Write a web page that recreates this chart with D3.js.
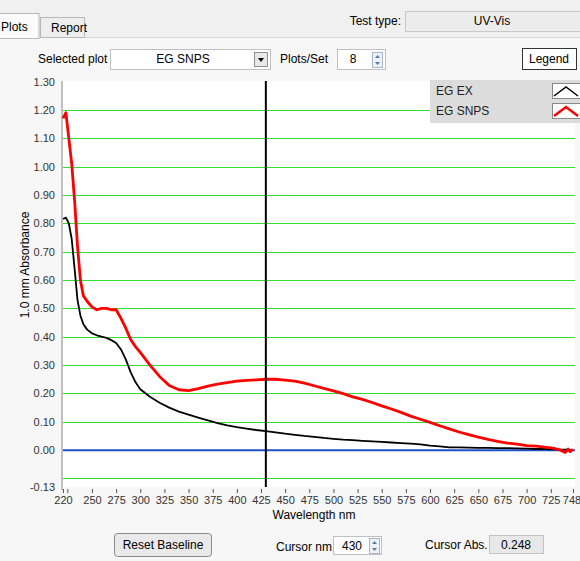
<!DOCTYPE html>
<html>
<head>
<meta charset="utf-8">
<script src="https://cdn.jsdelivr.net/npm/d3@7"></script>
<style>
  body { margin: 0; background: #f0f0f0; }
  svg { display: block; font-family: "Liberation Sans", Arial, sans-serif; font-size: 12px; }
</style>
</head>
<body>
<svg width="580" height="561"></svg>
<script>
// wavelength (nm) and absorbance
var wavelengths = [220,223,226,229,232,235,238,241,245,250,255,260,265,270,275,280,285,290,295,300,
    310,320,330,340,350,360,370,380,390,400,410,420,430,440,450,460,470,480,490,500,
    510,520,530,540,550,560,570,580,590,600,610,620,630,640,650,660,670,680,690,700,
    710,720,725,730,735,740,743,745,748];

var egEx = [0.815,0.82,0.80,0.745,0.64,0.53,0.475,0.445,0.425,0.412,0.405,0.40,0.396,0.388,0.378,0.355,0.32,0.275,0.24,0.215,
    0.188,0.167,0.15,0.136,0.125,0.115,0.105,0.095,0.087,0.081,0.076,0.071,0.067,0.063,0.058,0.054,0.05,0.047,0.043,0.04,
    0.037,0.035,0.033,0.031,0.029,0.027,0.025,0.023,0.02,0.016,0.013,0.01,0.01,0.009,0.008,0.008,0.007,0.007,0.006,0.005,
    0.004,0.004,0.003,0.003,0.002,0.002,0.002,0.001,0.001];

var egSnps = [1.17,1.19,1.10,1.01,0.88,0.72,0.60,0.545,0.525,0.505,0.495,0.50,0.50,0.495,0.495,0.465,0.43,0.39,0.365,0.345,
    0.30,0.26,0.228,0.213,0.21,0.217,0.226,0.233,0.238,0.243,0.246,0.248,0.25,0.25,0.247,0.243,0.236,0.227,0.218,0.209,
    0.199,0.188,0.179,0.168,0.156,0.145,0.133,0.12,0.109,0.098,0.086,0.075,0.064,0.055,0.046,0.038,0.031,0.025,0.021,0.016,
    0.014,0.01,0.008,0.005,0.0,-0.008,0.004,-0.005,0.003];

var yTicks = [-0.13,0.00,0.10,0.20,0.30,0.40,0.50,0.60,0.70,0.80,0.90,1.00,1.10,1.20,1.30];
var gridValues = [-0.10,0.10,0.20,0.30,0.40,0.50,0.60,0.70,0.80,0.90,1.00,1.10,1.20];
var xTicks = [220,250,275,300,325,350,375,400,425,450,475,500,525,550,575,600,625,650,675,700,725,748];
var seriesNames = ["EG EX", "EG SNPS"];
var seriesColours = ["#000000", "#ff0000"];
var cursorNm = 430;
var cursorAbs = "0.248";

var svg = d3.select("svg");

// **** panel background and controls ****
svg.append("rect").attr("x", 0).attr("y", 37).attr("width", 580).attr("height", 524).attr("fill", "#f7f7f7");
svg.append("line").attr("x1", 0).attr("x2", 580).attr("y1", 37.5).attr("y2", 37.5).attr("stroke", "#d8d8d8");

// tabs
svg.append("rect").attr("x", -10).attr("y", 13.5).attr("width", 49).attr("height", 25).attr("fill", "#fbfbfb").attr("stroke", "#b8b8b8");
svg.append("text").attr("x", 1).attr("y", 31).text("Plots");
svg.append("rect").attr("x", 40.5).attr("y", 17.5).attr("width", 44).attr("height", 20).attr("fill", "#eeeeee").attr("stroke", "#b8b8b8");
svg.append("text").attr("x", 51).attr("y", 32).text("Report");

svg.append("text").attr("x", 401).attr("y", 25).attr("text-anchor", "end").text("Test type:");
svg.append("rect").attr("x", 405.5).attr("y", 11.5).attr("width", 180).attr("height", 20).attr("fill", "#ececec").attr("stroke", "#c8c8c8");
svg.append("text").attr("x", 492).attr("y", 25).attr("text-anchor", "middle").text("UV-Vis");

svg.append("text").attr("x", 38).attr("y", 63).text("Selected plot");
svg.append("rect").attr("x", 110.5).attr("y", 49.5).attr("width", 160).attr("height", 20).attr("fill", "#ffffff").attr("stroke", "#c0c0c0");
svg.append("text").attr("x", 183).attr("y", 63).attr("text-anchor", "middle").text("EG SNPS");
svg.append("rect").attr("x", 254.5).attr("y", 52.5).attr("width", 13).attr("height", 14).attr("fill", "#e8e8e8").attr("stroke", "#909090");
svg.append("path").attr("d", "M258 58 L264 58 L261 62 Z").attr("fill", "#000");

svg.append("text").attr("x", 280).attr("y", 63).text("Plots/Set");
svg.append("rect").attr("x", 337.5).attr("y", 49.5).attr("width", 48).attr("height", 20).attr("fill", "#ffffff").attr("stroke", "#c0c0c0");
svg.append("text").attr("x", 353).attr("y", 63).attr("text-anchor", "middle").text("8");
var addSpinner = function(x, y) {
    svg.append("rect").attr("x", x + 0.5).attr("y", y + 0.5).attr("width", 10).attr("height", 15).attr("fill", "#eef2f8").attr("stroke", "#a8b4c8");
    svg.append("path").attr("d", `M${x + 3} ${y + 6} L${x + 8} ${y + 6} L${x + 5.5} ${y + 3} Z`).attr("fill", "#5a78a8");
    svg.append("path").attr("d", `M${x + 3} ${y + 10} L${x + 8} ${y + 10} L${x + 5.5} ${y + 13} Z`).attr("fill", "#5a78a8");
};
addSpinner(372, 52);

svg.append("rect").attr("x", 522.5).attr("y", 48.5).attr("width", 54).attr("height", 21).attr("fill", "#ffffff").attr("stroke", "#333");
svg.append("text").attr("x", 549).attr("y", 63).attr("text-anchor", "middle").text("Legend");

// **** scales ****
var xScale = d3.scaleLinear().domain([220, 748]).range([63, 573]);
var yScale = d3.scaleLinear().domain([-0.13, 1.30]).range([487, 81.5]);

var chartG = svg.append("g");

chartG.append("rect").attr("x", 63).attr("y", 81).attr("width", 512).attr("height", 406).attr("fill", "#ffffff");

chartG.selectAll(".grid")
    .data(gridValues)
    .enter()
    .append("line")
    .attr("class", "grid")
    .attr("x1", 63).attr("x2", 575)
    .attr("y1", d => Math.round(yScale(d)) + 0.5)
    .attr("y2", d => Math.round(yScale(d)) + 0.5)
    .attr("stroke", "#2fe02f")
    .attr("stroke-width", 1.2);

chartG.append("line")
    .attr("x1", 63).attr("x2", 575)
    .attr("y1", yScale(0)).attr("y2", yScale(0))
    .attr("stroke", "#1f4fcf").attr("stroke-width", 2);

// left axis bar
chartG.append("line").attr("x1", 62).attr("x2", 62).attr("y1", 81).attr("y2", 490)
    .attr("stroke", "#c0c0c0").attr("stroke-width", 2);

chartG.selectAll(".ylab")
    .data(yTicks)
    .enter()
    .append("text")
    .attr("class", "ylab")
    .attr("x", 55)
    .attr("y", d => yScale(d) + 4)
    .attr("text-anchor", "end")
    .attr("fill", "#333")
    .style("font-size", "11px")
    .text(d => d.toFixed(2));

// x axis ticks and labels
var xAxis = d3.axisBottom(xScale).tickValues(xTicks).tickSize(4).tickPadding(3).tickFormat(d => d);
var xAxisG = chartG.append("g").attr("transform", "translate(0,489)").call(xAxis);
xAxisG.select(".domain").remove();
xAxisG.selectAll("line").attr("stroke", "#555");
xAxisG.selectAll("text").attr("fill", "#333").style("font-size", "11px").style("font-family", "Liberation Sans, Arial, sans-serif");
// keep the last label inside the window
xAxisG.selectAll("text").filter(d => d === 748).attr("dx", "-1.5");
chartG.append("line").attr("x1", xScale(225)).attr("x2", xScale(225)).attr("y1", 489).attr("y2", 493).attr("stroke", "#555");

chartG.append("text").attr("x", 314).attr("y", 519).attr("text-anchor", "middle").text("Wavelength nm");
chartG.append("text").attr("transform", "translate(29,265) rotate(-90)").attr("text-anchor", "middle").text("1.0 mm Absorbance");

// **** curves ****
var line = d3.line()
    .x((d, i) => xScale(wavelengths[i]))
    .y(d => yScale(d));

chartG.append("path").datum(egEx).attr("d", line)
    .attr("fill", "none").attr("stroke", seriesColours[0]).attr("stroke-width", 1.8).attr("stroke-linejoin", "round");
chartG.append("path").datum(egSnps).attr("d", line)
    .attr("fill", "none").attr("stroke", seriesColours[1]).attr("stroke-width", 2.8).attr("stroke-linejoin", "round");

// cursor
chartG.append("line").attr("x1", xScale(cursorNm)).attr("x2", xScale(cursorNm)).attr("y1", 81).attr("y2", 487)
    .attr("stroke", "#000").attr("stroke-width", 2);

// **** legend ****
var legend = svg.append("g").attr("transform", "translate(430,80)");
legend.append("rect").attr("width", 150).attr("height", 43).attr("fill", "#dcdcdc");
var legendItem = legend.selectAll(".item")
    .data(seriesNames)
    .enter()
    .append("g")
    .attr("class", "item")
    .attr("transform", (d, i) => `translate(0, ${i * 20})`);
legendItem.append("text").attr("x", 6).attr("y", 15).attr("fill", "#222").text(d => d);
legendItem.append("rect").attr("x", 122.5).attr("y", 3.5).attr("width", 30).attr("height", 15).attr("fill", "#fff").attr("stroke", "#888");
legendItem.append("path")
    .attr("d", "M124 16 L136 7 L148 16")
    .attr("fill", "none")
    .attr("stroke", (d, i) => seriesColours[i])
    .attr("stroke-width", (d, i) => i === 0 ? 1.5 : 2.5);

// **** bottom controls ****
svg.append("rect").attr("x", 114.5).attr("y", 533.5).attr("width", 97).attr("height", 23).attr("rx", 3)
    .attr("fill", "#e9e9e9").attr("stroke", "#8a8a8a");
svg.append("text").attr("x", 163).attr("y", 549).attr("text-anchor", "middle").text("Reset Baseline");

svg.append("text").attr("x", 276).attr("y", 551).text("Cursor nm");
svg.append("rect").attr("x", 333.5).attr("y", 536.5).attr("width", 48).attr("height", 18).attr("fill", "#ffffff").attr("stroke", "#c0c0c0");
svg.append("text").attr("x", 352).attr("y", 550).attr("text-anchor", "middle").text(cursorNm);
addSpinner(369, 538);

svg.append("text").attr("x", 425).attr("y", 549).text("Cursor Abs.");
svg.append("rect").attr("x", 489.5).attr("y", 535.5).attr("width", 54).attr("height", 18).attr("fill", "#e8e8e8").attr("stroke", "#c4c4c4");
svg.append("text").attr("x", 516).attr("y", 549).attr("text-anchor", "middle").text(cursorAbs);
</script>
</body>
</html>
